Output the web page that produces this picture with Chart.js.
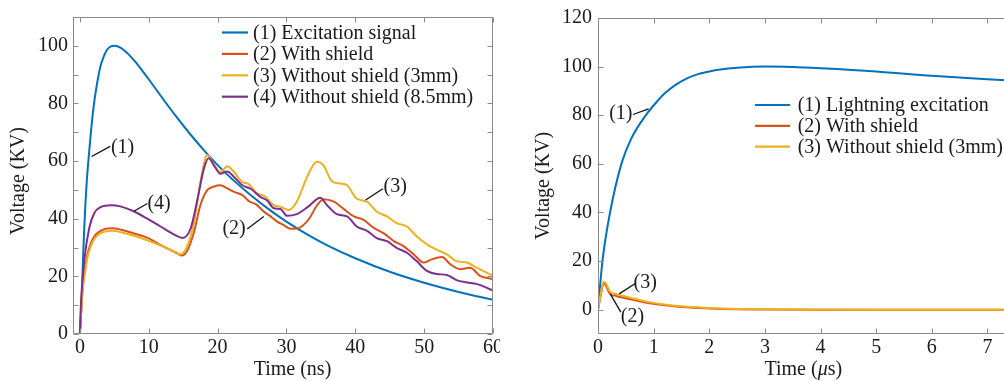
<!DOCTYPE html>
<html><head><meta charset="utf-8">
<script src="https://cdn.jsdelivr.net/npm/chart.js@4.4.1/dist/chart.umd.min.js"></script>
<style>
html,body{margin:0;padding:0;background:#fff;overflow:hidden;width:1004px;height:381px}
#wl{position:absolute;left:0;top:0;width:500px;height:381px;overflow:hidden}
#wr{position:absolute;left:500px;top:0;width:504px;height:381px;overflow:hidden}
canvas{display:block}
</style></head>
<body>
<div id="wl"><canvas id="cl" width="510" height="381"></canvas></div>
<div id="wr"><canvas id="cr" width="560" height="381"></canvas></div>
<script>
// ---------- LEFT CHART DATA (Time in ns, Voltage in kV) ----------
const leftLabels = ['(1) Excitation signal', '(2) With shield', '(3) Without shield (3mm)', '(4) Without shield (8.5mm)'];
const leftXTicks = [0, 10, 20, 30, 40, 50, 60];
const leftYTicks = [0, 10, 20, 30, 40, 50, 60, 70, 80, 90, 100, 110];

const l1t = [0, 0.2, 0.4, 0.6, 0.8, 1.0, 1.3, 1.6, 2.0, 2.5, 3.0, 3.5, 4.0, 4.5, 5.0, 6, 7, 8, 9, 10, 12, 14, 16, 18, 20, 22, 25, 28, 30, 33, 36, 40, 45, 50, 55, 60];
const l1v = [0, 8, 22, 35, 45, 53, 62, 70, 79, 87, 93, 96.5, 98.8, 99.8, 100, 99.2, 97.2, 94.6, 91.6, 88.4, 81.8, 75.4, 69.4, 63.8, 58.6, 54, 47.8, 42.3, 39, 34.6, 30.7, 26.3, 21.6, 17.8, 14.6, 11.9];

const l2t = [0, 0.4, 0.7, 1.1, 1.6, 2.1, 3, 4, 4.8, 6, 8, 10, 12, 14, 14.8, 15.5, 16.6, 17.5, 18.5, 19.5, 20.4, 21.4, 22.4, 23.6, 24.6, 25.6, 26.7, 27.6, 28.6, 29.6, 30.6, 31.5, 32.3, 33.3, 34.4, 35.4, 36.9, 38.3, 39.8, 41.2, 42.7, 44.1, 45.6, 47, 48.5, 49.9, 51.1, 52.6, 53.8, 55.2, 56.7, 58.1, 60];
const l2v = [0, 16, 21.5, 27.6, 31.5, 33.9, 35.8, 36.6, 36.7, 36.2, 34.8, 33.2, 30.5, 28.2, 27.2, 28.5, 35.6, 44.7, 49.9, 51.2, 51.6, 50.5, 49.3, 48.2, 46, 45, 42.5, 41, 39.1, 37.8, 36.5, 36.6, 37.5, 40, 44.5, 46.8, 45.9, 43.4, 40.8, 39.6, 36.8, 35, 32.2, 30.5, 27.6, 24.8, 25.9, 26.7, 24.2, 22.5, 23, 20.2, 19.1];

const l3t = [0, 0.4, 0.7, 1.1, 1.6, 2.1, 3, 4, 4.8, 6, 8, 10, 12, 14, 14.5, 15.5, 16.6, 17.5, 18.5, 19.4, 20.4, 21.4, 22.4, 23.6, 24.4, 25.8, 26.7, 28.2, 29.1, 30.3, 31.5, 33, 34.4, 35.4, 36.6, 37.8, 38.8, 40.2, 41.7, 43.1, 44.6, 46, 47.5, 48.9, 50.4, 51.8, 53.3, 54.7, 56.2, 57.6, 60];
const l3v = [0, 15, 20.5, 26.5, 30.5, 33, 35, 35.7, 35.8, 35.3, 34, 32.3, 30.4, 28.3, 27.6, 30, 39, 52.7, 62.1, 59, 56.2, 58.2, 56.2, 52.7, 52.2, 48.7, 48, 44.7, 44.2, 43, 45.9, 54.5, 59.8, 58.4, 53, 52.2, 51.6, 47, 45.9, 42.5, 40.8, 38.5, 37.3, 33.9, 31.1, 29.3, 27.6, 25.3, 24.8, 23, 20.2];

const l4t = [0, 0.15, 0.63, 1.35, 2.1, 3, 4.5, 6, 7.9, 9.8, 11.7, 13.7, 14.9, 16.1, 17.1, 18, 18.7, 19.6, 20.4, 21.4, 22.4, 23.6, 24.8, 26.2, 27.2, 28.2, 29.1, 30.1, 31.5, 33.2, 34.9, 35.9, 37.3, 38.8, 40.2, 41.7, 43.1, 44.6, 46, 47.5, 48.9, 50.4, 51.8, 53.3, 54.7, 56.2, 57.6, 60];
const l4v = [0, 10.5, 25.3, 36.7, 42, 44, 44.7, 44.2, 42.5, 40, 37.3, 34.5, 33.3, 36.7, 47, 57.3, 61, 58, 55.6, 56.4, 54.5, 51.6, 50.4, 47.6, 46.3, 43.6, 43.4, 41, 41.6, 44.3, 47.3, 44.7, 41.6, 40.8, 37.3, 35.8, 33.3, 32.2, 29.9, 28.2, 25.3, 21.9, 20.8, 20.5, 18.7, 17.9, 17.4, 15.1];

// ---------- RIGHT CHART DATA (Time in us, Voltage in kV) ----------
const rightLabels = ['(1) Lightning excitation', '(2) With shield', '(3) Without shield (3mm)'];
const rightXTicks = [0, 1, 2, 3, 4, 5, 6, 7, 8];
const rightYTicks = [0, 20, 40, 60, 80, 100, 120];

const r1t = [0, 0.08, 0.22, 0.43, 0.6, 0.85, 1.09, 1.2, 1.4, 1.6, 1.8, 2.0, 2.2, 2.5, 3, 3.5, 4, 5, 6, 7, 8];
const r1v = [0, 20, 40.4, 60.7, 70.5, 79.7, 86.4, 89, 92.6, 95.2, 96.9, 98, 98.8, 99.5, 100, 99.8, 99.3, 98, 96.2, 94.8, 93.5];
const r2t = [0, 0.05, 0.1, 0.15, 0.2, 0.25, 0.3, 0.4, 0.6, 0.8, 1.0, 1.2, 1.5, 2, 2.5, 3, 4, 5, 6, 7, 8];
const r2v = [0, 6, 11, 9.5, 7, 6, 5.8, 5.2, 4.2, 3.2, 2.4, 1.8, 1.1, 0.5, 0.2, 0.1, 0, 0, 0, 0, 0];
const r3t = [0, 0.05, 0.1, 0.15, 0.2, 0.25, 0.3, 0.4, 0.6, 0.8, 1.0, 1.2, 1.5, 2, 2.5, 3, 4, 5, 6, 7, 8];
const r3v = [0, 6.5, 11.5, 10.5, 8, 6.8, 6.6, 6.0, 4.8, 3.7, 2.8, 2.1, 1.4, 0.7, 0.3, 0.15, 0.05, 0, 0, 0, 0];

const colors = ['#0072BD', '#D95319', '#EDB120', '#7E2F8E'];
const FONT = '"Liberation Serif", "Times New Roman", serif';
const TXT = '#1a1a1a';
const AXC = '#8a8a8a';

const pts = (t, v) => t.map((x, i) => ({x: x, y: v[i]}));
const ds = (label, t, v, color, order) => ({
  label, data: pts(t, v), borderColor: color, backgroundColor: color,
  borderWidth: 2, pointRadius: 0, fill: false, cubicInterpolationMode: 'monotone', order
});

// frame + inward ticks
const framePlugin = {
  id: 'frame',
  afterDatasetsDraw(chart, args, o) {
    const {ctx, chartArea: a, scales: {x, y}} = chart;
    ctx.save();
    ctx.strokeStyle = AXC; ctx.lineWidth = 1;
    ctx.beginPath();
    const L = Math.round(a.left) + 0.5, R = Math.round(a.right) - 0.5, T = Math.round(a.top) + 0.5, B = Math.round(a.bottom) - 0.5;
    ctx.moveTo(L, T); ctx.lineTo(L, B); ctx.lineTo(R, B);
    if (o.right) ctx.lineTo(R, T); else ctx.moveTo(R, T);
    ctx.lineTo(L, T);
    const len = 5;
    o.xt.forEach(v => {
      const px = Math.round(x.getPixelForValue(v)) + 0.5;
      ctx.moveTo(px, B); ctx.lineTo(px, B - len);
      ctx.moveTo(px, T); ctx.lineTo(px, T + len);
    });
    o.yt.forEach(v => {
      const py = Math.round(y.getPixelForValue(v)) + 0.5;
      ctx.moveTo(L, py); ctx.lineTo(L + len, py);
      if (o.right) { ctx.moveTo(R, py); ctx.lineTo(R - len, py); }
    });
    ctx.stroke();
    ctx.restore();
  }
};

// legend drawn inside the plot
const legendPlugin = {
  id: 'inLegend',
  afterDraw(chart, args, o) {
    const {ctx} = chart;
    ctx.save();
    ctx.font = '20px ' + FONT;
    ctx.textBaseline = 'middle';
    ctx.textAlign = 'left';
    o.order.forEach((di, k) => {
      const d = chart.data.datasets[di];
      const yy = o.y0 + k * o.dy;
      ctx.strokeStyle = d.borderColor; ctx.lineWidth = 2.2;
      ctx.beginPath(); ctx.moveTo(o.x0, yy); ctx.lineTo(o.x1, yy); ctx.stroke();
      ctx.fillStyle = TXT;
      ctx.fillText(d.label, o.tx, yy + 1);
    });
    ctx.restore();
  }
};

// curve annotations (data coordinates)
const annoPlugin = {
  id: 'anno',
  afterDraw(chart, args, o) {
    const {ctx, scales: {x, y}} = chart;
    ctx.save();
    ctx.font = '20px ' + FONT;
    ctx.textBaseline = 'middle';
    ctx.textAlign = 'center';
    ctx.fillStyle = TXT; ctx.strokeStyle = '#111'; ctx.lineWidth = 1.3;
    o.items.forEach(it => {
      ctx.beginPath();
      ctx.moveTo(x.getPixelForValue(it.l[0]), y.getPixelForValue(it.l[1]));
      ctx.lineTo(x.getPixelForValue(it.l[2]), y.getPixelForValue(it.l[3]));
      ctx.stroke();
      ctx.fillText(it.text, x.getPixelForValue(it.tx), y.getPixelForValue(it.ty));
    });
    ctx.restore();
  }
};

// axis titles
const titlePlugin = {
  id: 'axTitles',
  afterDraw(chart, args, o) {
    const {ctx} = chart;
    ctx.save();
    ctx.fillStyle = TXT;
    ctx.textBaseline = 'middle';
    o.items.forEach(it => {
      ctx.save();
      ctx.translate(it.x, it.y);
      ctx.rotate(it.rot || 0);
      let w = 0;
      it.parts.forEach(p => { ctx.font = (p.i ? 'italic ' : '') + '20px ' + FONT; w += ctx.measureText(p.t).width; });
      let cx = -w / 2;
      ctx.textAlign = 'left';
      it.parts.forEach(p => { ctx.font = (p.i ? 'italic ' : '') + '20px ' + FONT; ctx.fillText(p.t, cx, 0); cx += ctx.measureText(p.t).width; });
      ctx.restore();
    });
    ctx.restore();
  }
};

function axes(xmin, xmax, ymin, ymax, xt, yt, ylab, yw, ypad) {
  return {
    x: {
      type: 'linear', min: xmin, max: xmax,
      afterBuildTicks: s => { s.ticks = xt.map(v => ({value: v})); },
      afterFit: s => { s.height = 47; },
      grid: {display: false, drawTicks: false, tickLength: 0}, border: {display: false},
      ticks: {font: {family: FONT, size: 20}, color: TXT, padding: 2, autoSkip: false, maxRotation: 0}
    },
    y: {
      type: 'linear', min: ymin, max: ymax,
      afterBuildTicks: s => { s.ticks = yt.map(v => ({value: v})); },
      afterFit: s => { s.width = yw; },
      grid: {display: false, drawTicks: false, tickLength: 0}, border: {display: false},
      ticks: {font: {family: FONT, size: 20}, color: TXT, padding: ypad, autoSkip: false, callback: ylab}
    }
  };
}

new Chart(document.getElementById('cl'), {
  type: 'line',
  data: {datasets: [
    ds(leftLabels[0], l1t, l1v, colors[0], 3),
    ds(leftLabels[1], l2t, l2v, colors[1], 2),
    ds(leftLabels[2], l3t, l3v, colors[2], 1),
    ds(leftLabels[3], l4t, l4v, colors[3], 0)
  ]},
  options: {
    responsive: false, animation: false, devicePixelRatio: 1,
    layout: {padding: {top: 12, right: 17, left: 0, bottom: 0}},
    scales: axes(-1, 60, 0, 110, leftXTicks, leftYTicks, v => (v % 20 === 0 && v <= 100) ? v : '', 73, 5),
    plugins: {
      legend: {display: false}, tooltip: {enabled: false},
      frame: {xt: leftXTicks, yt: leftYTicks, right: true},
      inLegend: {order: [0, 1, 2, 3], x0: 222, x1: 248, tx: 253, y0: 32.5, dy: 21.4},
      anno: {items: [
        {text: '(1)', tx: 6.2, ty: 64.7, l: [1.7, 61.6, 4.4, 65.1]},
        {text: '(4)', tx: 11.5, ty: 45.3, l: [7.9, 42.7, 9.8, 45.3]},
        {text: '(2)', tx: 22.4, ty: 36.5, l: [24.3, 36.4, 26.7, 40.8]},
        {text: '(3)', tx: 45.8, ty: 51.0, l: [41.5, 46.5, 44.0, 50.4]}
      ]},
      axTitles: {items: [
        {parts: [{t: 'Voltage (KV)'}], x: 19, y: 181, rot: -Math.PI / 2},
        {parts: [{t: 'Time (ns)'}], x: 292.5, y: 370}
      ]}
    }
  },
  plugins: [framePlugin, legendPlugin, annoPlugin, titlePlugin]
});

new Chart(document.getElementById('cr'), {
  type: 'line',
  data: {datasets: [
    ds(rightLabels[0], r1t, r1v, colors[0], 2),
    ds(rightLabels[1], r2t, r2v, colors[1], 1),
    ds(rightLabels[2], r3t, r3v, colors[2], 0)
  ]},
  options: {
    responsive: false, animation: false, devicePixelRatio: 1,
    layout: {padding: {top: 15, right: 17, left: 0, bottom: 0}},
    scales: axes(0, 8, -10, 120, rightXTicks, rightYTicks, v => v, 98, 6),
    plugins: {
      legend: {display: false}, tooltip: {enabled: false},
      frame: {xt: rightXTicks, yt: rightYTicks, right: true},
      inLegend: {order: [0, 1, 2], x0: 255, x1: 290, tx: 297.7, y0: 105, dy: 20.8},
      anno: {items: [
        {text: '(1)', tx: 0.41, ty: 80.7, l: [0.63, 80.3, 0.91, 82.6]},
        {text: '(3)', tx: 0.85, ty: 11.2, l: [0.38, 6.5, 0.67, 10.8]},
        {text: '(2)', tx: 0.62, ty: -3.0, l: [0.22, 6.5, 0.41, -1.0]}
      ]},
      axTitles: {items: [
        {parts: [{t: 'Voltage (KV)'}], x: 43.3, y: 185.8, rot: -Math.PI / 2},
        {parts: [{t: 'Time ('}, {t: 'μ', i: true}, {t: 's)'}], x: 303.3, y: 370}
      ]}
    }
  },
  plugins: [framePlugin, legendPlugin, annoPlugin, titlePlugin]
});
</script>
</body></html>
